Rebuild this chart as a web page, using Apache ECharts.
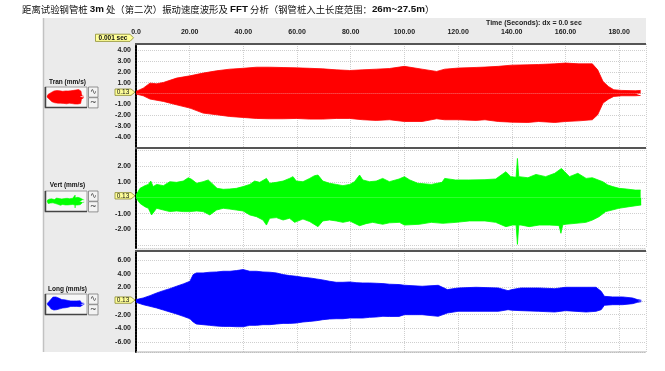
<!DOCTYPE html>
<html><head><meta charset="utf-8">
<script src="https://cdn.jsdelivr.net/npm/echarts@6/dist/echarts.min.js"></script>
<style>html,body{margin:0;padding:0;background:#fff}#c{width:665px;height:371px}</style>
</head><body><div id="c"></div>
<script>
// ---- data (envelopes of the velocity waveforms) ----
const timeTicks = [0, 20, 40, 60, 80, 100, 120, 140, 160, 180];
const tranTicks = [-4, -3, -2, -1, 1, 2, 3, 4];
const vertTicks = [-2, -1, 1, 2];
const longTicks = [-6, -4, -2, 2, 4, 6];
const dcOffset = 0.13;

const tranUpT = [0,2.7,5.2,5.8,7.7,10.2,15.1,20.1,25,30,34.9,39.9,44.9,49.8,54.8,59.7,64.7,69.6,74.6,79.6,84.5,89.5,94.4,100,106.6,112,115,120,126.7,130,135,140,146,150,156,160,165,170,172,174,176,178,181,186,188];
const tranUp  = [0.2,0.5,0.96,1.11,0.9,1.02,1.42,1.63,1.88,2.09,2.24,2.32,2.42,2.42,2.39,2.36,2.32,2.27,2.18,2.12,2.18,2.24,2.3,2.5,2.24,2.03,2.24,2.34,2.4,2.43,2.5,2.61,2.64,2.67,2.73,2.8,2.73,2.73,2.18,1.11,0.65,0.35,0.29,0.26,0.29];
const tranLoT = [0,2.7,5.2,10.2,15.1,20.1,25,30,34.9,39.9,44.9,49.8,54.8,59.7,64.7,69.6,74.6,79.6,84.5,89.5,94.4,100,106.6,112,115,120,126.7,130,135,140,146,150,156,160,165,170,172,174,176,178,181,186,188];
const tranLo  = [-0.04,-0.2,-0.5,-0.72,-1.03,-1.33,-1.79,-1.94,-2.1,-2.19,-2.28,-2.31,-2.31,-2.28,-2.34,-2.34,-2.28,-2.28,-2.4,-2.46,-2.4,-2.56,-2.56,-2.31,-2.4,-2.4,-2.46,-2.4,-2.56,-2.62,-2.65,-2.56,-2.65,-2.56,-2.5,-2.4,-1.94,-0.87,-0.51,-0.26,-0.2,-0.2,-0.17];

const vertUpT = [0,1.5,3.3,4.6,5.5,6.4,7.7,10.2,12.6,15.1,17.6,19.5,20.7,22.6,25,26.9,28.7,30.2,32.5,34.9,37.4,39.9,42.4,44.2,46.1,48.6,49.8,52.3,54.8,57.2,58.5,59.7,62.2,64.7,66.5,67.8,69.6,72.1,74.6,77.1,79.6,81.4,83.3,84.5,87,89.5,91.9,94.4,98,100,102,105,110,114,115,119,124,130,134,137.8,139.6,141.6,142.1,142.6,146,149,152.6,156,158.5,159.7,161.5,164.6,167.7,170,173.9,175.8,177.6,180,182.6,186,188];
const vertUp  = [0.18,0.6,0.77,0.85,1.06,0.71,0.85,0.77,1.02,0.98,1.06,1.27,1.17,0.92,1.02,1.13,0.85,0.6,0.54,0.56,0.6,0.71,0.85,1.06,0.98,1.23,0.92,0.98,1.06,1.23,1.34,1.06,1.02,1.23,1.4,1.44,1.06,0.92,0.85,0.77,0.85,1.02,1.44,1.13,1.02,1.06,1.23,1.02,1.19,1.34,1.13,0.92,0.85,0.98,1.23,1.13,1.13,1.15,1.19,1.65,1.34,1.3,2.49,1.34,1.27,1.48,1.34,1.55,1.86,1.65,1.34,1.55,1.23,1.27,1.02,0.81,0.71,0.6,0.56,0.49,0.49];
const vertLoT = [0,1.5,3.3,4.6,5.8,7.7,10.2,12.6,15.1,17.6,20.1,22.6,25,27.5,30,32.5,34.9,37.4,39.9,42.4,44.9,47.3,48.6,49.8,52.3,54.8,57.2,59.1,62.2,64.7,67.8,69.6,72.1,74.6,77.1,79.6,83.3,85.7,88.2,91.9,94.4,98.1,100,105.6,110,114.3,119.2,124.2,130,134,137.8,140.3,141.6,142.1,142.6,143.4,146.5,150.2,154,157.6,158.3,159,160.1,163.9,167.6,170.1,172.5,175,177.4,179.9,183.7,188.2];
const vertLo  = [0,-0.35,-0.56,-0.66,-1.08,-0.66,-0.77,-0.87,-0.83,-0.87,-0.87,-0.83,-0.87,-1.08,-0.77,-0.66,-0.71,-0.77,-0.83,-1.08,-1.19,-1.4,-1.72,-1.29,-1.25,-1.4,-1.29,-1.55,-1.34,-1.5,-1.82,-1.46,-1.4,-1.46,-1.55,-1.46,-1.76,-1.63,-1.55,-1.67,-1.58,-1.55,-1.72,-1.67,-1.55,-1.61,-1.55,-1.46,-1.46,-1.55,-1.82,-1.72,-1.72,-2.94,-1.72,-1.72,-1.82,-1.72,-1.72,-1.75,-2.24,-1.7,-1.67,-1.61,-1.55,-1.4,-1.19,-0.87,-0.77,-0.66,-0.56,-0.45];

const longT   = [0,2.7,5.2,7.7,10.2,12.6,15.1,17.6,20.1,21.3,22.5,25,27.5,30,32.5,35,37.4,39.9,42.4,44.9,47.3,49.8,52.3,54.8,57.2,59.7,62.2,64.7,67.2,69.6,72.1,74.6,77.1,79.6,82,84.5,87,89.5,92,94.4,98,100,106.6,112.6,116,120,126.7,135,138.6,140,143.4,150,156,160,167.7,171.4,173.3,174.5,177.6,181.3,185,186.8,188.3];
const longUp  = [0.2,0.44,0.78,1.17,1.51,1.8,2.15,2.49,2.88,3.85,4.1,4.1,4.2,4.24,4.34,4.34,4.44,4.59,4.34,4.34,4.24,4.2,4.1,3.85,3.71,3.61,3.46,3.37,3.22,3.07,2.88,2.73,2.73,2.78,2.68,2.63,2.63,2.59,2.54,2.45,2.4,2.3,2.15,2.29,1.66,1.9,2.0,1.9,1.51,1.66,1.9,1.9,1.8,2.0,2.0,2.0,1.41,0.68,0.59,0.59,0.44,0.2,0.1];
const longLo  = [-0.2,-0.54,-0.78,-1.02,-1.32,-1.61,-1.9,-2.24,-2.59,-3.07,-3.37,-3.46,-3.56,-3.66,-3.71,-3.71,-3.76,-3.76,-3.56,-3.56,-3.46,-3.46,-3.37,-3.27,-3.27,-3.22,-3.07,-2.98,-2.88,-2.73,-2.63,-2.59,-2.59,-2.49,-2.49,-2.49,-2.39,-2.34,-2.24,-2.27,-2.25,-2.0,-2.0,-2.24,-1.76,-1.51,-1.51,-1.51,-1.27,-1.35,-1.41,-1.51,-1.61,-1.41,-1.61,-1.51,-1.27,-0.63,-0.54,-0.54,-0.39,-0.2,-0.1];

// ---- layout ----
const PL = 136, PR = 646;
const panels = [
  {name:'Tran (mm/s)', color:'#ff0000', top:44, bottom:147, min:-4.9, max:4.55, split:9, ticks:tranTicks,
   up:[tranUpT,tranUp], lo:[tranLoT,tranLo], mini:3.2, boxTop:87, labelY:82},
  {name:'Vert (mm/s)', color:'#00ff00', top:148, bottom:248, min:-3.17, max:3.15, split:6, ticks:vertTicks,
   up:[vertUpT,vertUp], lo:[vertLoT,vertLo], mini:3.6, boxTop:191, labelY:185},
  {name:'Long (mm/s)', color:'#0000ff', top:251, bottom:352, min:-7.45, max:7.3, split:7, ticks:longTicks,
   up:[longT,longUp], lo:[longT,longLo], mini:5.2, boxTop:294, labelY:289.5}
];
const pairs = (ts, vs) => ts.map((t, i) => [t, vs[i]]);
const fmtT = v => v === 0 ? '0.0' : v.toFixed(2);

const grid = [], xAxis = [], yAxis = [], series = [];
const lblFont = {fontFamily:'Liberation Sans', fontSize:7, fontWeight:'bold', color:'#222'};
const gridLine = {show:true, lineStyle:{color:'#cfcfcf', type:'dotted', width:1}};
panels.forEach((p, i) => {
  grid.push({left:PL, right:665-PR, top:p.top, height:p.bottom-p.top});
  xAxis.push({type:'value', gridIndex:i, min:0, max:190, interval:20, position:'top',
    axisLine:{show:false}, axisTick:{show:false},
    axisLabel: i === 0 ? Object.assign({show:true, margin:8, formatter:fmtT, customValues: timeTicks}, lblFont) : {show:false},
    splitLine:gridLine});
  yAxis.push({type:'value', gridIndex:i, min:p.min, max:p.max, splitNumber:p.split,
    axisLine:{show:true, onZero:false, lineStyle:{color:'#000', width:2, type:[2,1]}},
    axisTick:{show:false},
    axisLabel:Object.assign({show:true, margin:5, customValues:p.ticks, formatter:v => v.toFixed(2)}, lblFont),
    splitLine:gridLine});
  [p.up, p.lo].forEach(env => series.push({type:'line', xAxisIndex:i, yAxisIndex:i,
    data:pairs(env[0], env[1]), showSymbol:false, symbol:'none', silent:true,
    lineStyle:{color:p.color, width:0.8}, areaStyle:{color:p.color, opacity:1}, z:3}));
});
// thumbnails (same data, small grids)
panels.forEach((p, i) => {
  const gi = 3 + i;
  grid.push({left:47, width:38, top:p.boxTop+1.5, height:17});
  xAxis.push({type:'value', gridIndex:gi, min:0, max:192, show:false});
  yAxis.push({type:'value', gridIndex:gi, min:-p.mini, max:p.mini, show:false});
  [p.up, p.lo].forEach(env => series.push({type:'line', xAxisIndex:gi, yAxisIndex:gi,
    data:pairs(env[0], env[1]), showSymbol:false, symbol:'none', silent:true,
    lineStyle:{color:p.color, width:0.6}, areaStyle:{color:p.color, opacity:1}, z:5}));
});

const chart = echarts.init(document.getElementById('c'), null, {renderer:'canvas'});
chart.setOption({animation:false, backgroundColor:'#ffffff', grid, xAxis, yAxis, series});

// ---- decorations ----
const g = [];
g.push({type:'rect', shape:{x:43, y:18, width:PR-43, height:352-18}, style:{fill:'#ebebeb'}, z:-10, silent:true});
g.push({type:'line', shape:{x1:43.5, y1:18, x2:43.5, y2:352}, style:{stroke:'#c2c2c2', lineWidth:1.5}, z:-9});
panels.forEach(p => {
  g.push({type:'rect', shape:{x:PL, y:p.top, width:PR-PL, height:p.bottom-p.top}, style:{fill:'#ffffff'}, z:-8, silent:true});
});
panels.forEach((p, i) => {
  g.push({type:'line', shape:{x1:PL-1, y1:p.top, x2:PR, y2:p.top}, style:{stroke:'#555', lineWidth:2}, z:20});
  g.push({type:'text', x:67.5, y:p.labelY, style:{text:p.name, fontFamily:'Liberation Sans', fontSize:6.5, fontWeight:'bold',
    fill:'#111', align:'center', verticalAlign:'middle'}, z:20});
  g.push({type:'rect', shape:{x:45, y:p.boxTop, width:42, height:20.5}, style:{fill:'#f7f7f7', stroke:'#9a9a9a', lineWidth:1}, z:1});
  g.push({type:'polyline', shape:{points:[[45.5,p.boxTop],[45.5,p.boxTop+20.5],[87,p.boxTop+20.5]]}, style:{stroke:'#444', lineWidth:1.5, fill:null}, z:2});
  [0, 1].forEach(k => {
    const by = p.boxTop + k*10.7;
    g.push({type:'rect', shape:{x:88.5, y:by, width:9.5, height:10.2}, style:{fill:'#f3f3f3', stroke:'#7a7a7a', lineWidth:0.8}, z:2});
    g.push({type:'text', x:93.3, y:by+5.1, style:{text:k===0?'∿':'~', fontFamily:'DejaVu Sans', fontSize:8,
      fill:'#333', align:'center', verticalAlign:'middle'}, z:3});
  });
  const yy = chart.convertToPixel({yAxisIndex:i}, dcOffset);
  g.push({type:'polygon', shape:{points:[[115,yy-3.2],[131,yy-3.2],[135,yy],[131,yy+3.2],[115,yy+3.2]]},
    style:{fill:'#ffff99', stroke:'#8a8a30', lineWidth:0.8}, z:25});
  g.push({type:'text', x:123, y:yy+0.3, style:{text:'0.13', fontFamily:'Liberation Sans', fontSize:6.5, fill:'#111',
    align:'center', verticalAlign:'middle'}, z:26});
});
g.push({type:'line', shape:{x1:PL, y1:352, x2:PR, y2:352}, style:{stroke:'#b0b0b0', lineWidth:1}, z:20});
g.push({type:'polygon', shape:{points:[[95.5,34.2],[130,34.2],[133.5,37.8],[130,41.4],[95.5,41.4]]},
  style:{fill:'#ffff99', stroke:'#8a8a30', lineWidth:0.8}, z:25});
g.push({type:'text', x:113, y:38, style:{text:'0.001 sec', fontFamily:'Liberation Sans', fontSize:6.5, fontWeight:'bold', fill:'#111',
  align:'center', verticalAlign:'middle'}, z:26});
g.push({type:'text', x:486, y:23, style:{text:'Time (Seconds): dx = 0.0 sec', fontFamily:'Liberation Sans', fontSize:7,
  fontWeight:'bold', fill:'#222', align:'left', verticalAlign:'middle'}, z:20});
g.push({type:'text', x:22, y:9, style:{
  text:'{a|距离试验钢管桩 }{b|3m}{a| 处（第二次）振动速度波形及 }{b|FFT}{a| 分析（钢管桩入土长度范围：}{b|26m~27.5m}{a|）}',
  verticalAlign:'middle', align:'left',
  rich:{a:{fontFamily:'Noto Sans CJK SC', fontSize:9.4, fill:'#111'},
        b:{fontFamily:'Liberation Sans', fontSize:9.8, fontWeight:'bold', fill:'#111'}}}, z:20});
chart.setOption({graphic:{elements:g}});
</script></body></html>
